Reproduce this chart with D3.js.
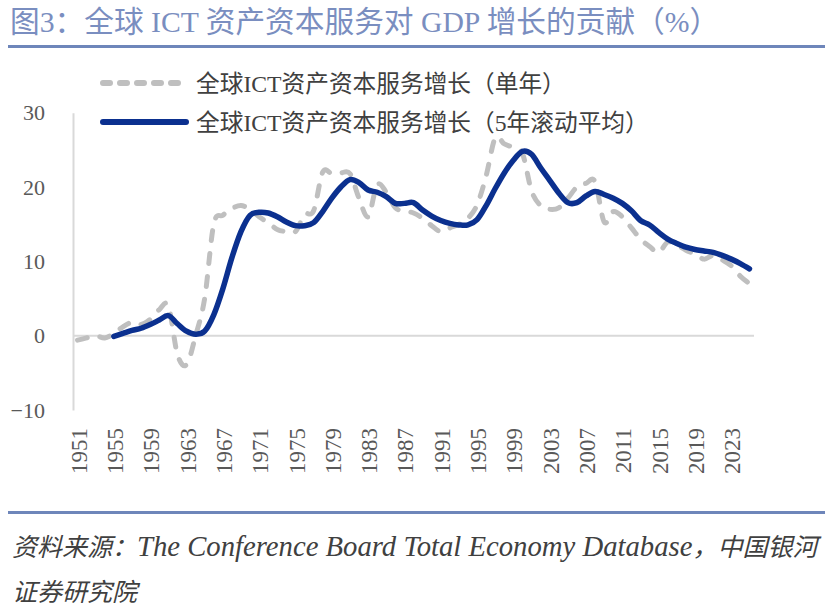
<!DOCTYPE html>
<html>
<head>
<meta charset="utf-8">
<script src="https://cdn.jsdelivr.net/npm/d3@7"></script>
<style>
  body { margin: 0; background: #fff; }
  svg { display: block; }
</style>
</head>
<body>
<svg id="chart" width="825" height="612"></svg>
<script>
// years on the category axis
const years = d3.range(1951, 2026);

// single-year contribution (grey dashed), 1951-2025
const singleYear = [
  -0.6, -0.3, 0.0, -0.3, 0.3, 1.2, 1.8, 1.5, 2.2, 3.5,
  4.0, -2.5, -3.9, 0.0, 5.0, 15.0, 16.2, 17.1, 17.5, 17.0,
  16.0, 15.2, 14.3, 14.0, 14.0, 16.3, 16.8, 22.0, 21.8, 21.9,
  21.8, 18.5, 16.0, 20.3, 19.3, 17.2, 16.8, 16.5, 15.8, 14.8,
  14.0, 14.5, 15.0, 15.8, 17.6, 21.5, 26.6, 25.8, 25.3, 24.5,
  19.5, 17.5, 17.0, 17.2, 18.5, 20.0, 20.5, 20.7, 15.3, 16.7,
  16.0, 14.5, 13.0, 12.0, 11.2, 12.6, 12.2, 11.5, 11.0, 10.3,
  10.8, 10.2, 9.4, 8.0, 7.0
];

// 5-year rolling average (navy), starts 1955
const rollingStart = 1955;
const rolling5 = [
  -0.1, 0.3, 0.7, 1.0, 1.5, 2.1, 2.7, 1.6, 0.6, 0.2,
  0.6, 2.8, 6.3, 10.5, 14.0, 16.2, 16.6, 16.5, 16.0, 15.3,
  14.8, 14.8, 15.2, 16.7, 18.5, 20.0, 21.0, 20.6, 19.6, 19.3,
  18.7, 17.8, 17.8, 17.9, 16.9, 16.1, 15.5, 15.1, 14.9, 14.9,
  15.6, 17.5, 19.8, 21.9, 23.6, 24.8, 24.4, 22.6, 20.9, 19.2,
  17.9, 17.9, 18.8, 19.4, 19.0, 18.5, 17.8, 16.8, 15.5, 14.9,
  13.9, 13.0, 12.4, 11.9, 11.6, 11.4, 11.2, 10.8, 10.3, 9.7,
  9.0
];

const yTicks = [-10, 0, 10, 20, 30];
const xTickYears = years.filter(y => (y - 1951) % 4 === 0);

const titleText = "图3：全球 ICT 资产资本服务对 GDP 增长的贡献（%）";
const legendLabels = ["全球ICT资产资本服务增长（单年）", "全球ICT资产资本服务增长（5年滚动平均）"];
// source text, split into CJK / Latin runs
const sourceRuns = [
  ["资料来源：", "The Conference Board Total Economy Database", "，中国银河"],
  ["证券研究院"]
];

const FONT = "'Liberation Serif', 'Noto Sans CJK SC', serif";
const GREY = "#bfbfbf";
const NAVY = "#0b308f";

const svg = d3.select("#chart");

// title and rules
svg.append("text")
  .attr("x", 10).attr("y", 32)
  .style("font-family", FONT)
  .style("font-size", "29.7px")
  .style("fill", "#7a8ec0")
  .text(titleText);

svg.append("rect").attr("x", 8).attr("y", 45).attr("width", 817).attr("height", 3).attr("fill", "#6e86ba");
svg.append("rect").attr("x", 8).attr("y", 511).attr("width", 817).attr("height", 3).attr("fill", "#6e86ba");

// scales
const xScale = d3.scaleBand()
  .domain(years)
  .range([73, 754])
  .padding(0);

const yScale = d3.scaleLinear()
  .domain([-10, 30])
  .range([410, 112.7]);

const cx = d => xScale(d) + xScale.bandwidth() / 2;

// y axis
const yAxis = svg.append("g")
  .attr("transform", "translate(73,0)")
  .call(d3.axisLeft(yScale).tickValues(yTicks).tickSize(0).tickPadding(28));
yAxis.select(".domain").attr("stroke", "#d9d9d9").attr("stroke-width", 2);
yAxis.selectAll("text")
  .style("font-family", FONT)
  .style("font-size", "22px")
  .style("fill", "#595959");

// zero line
svg.append("line")
  .attr("x1", 73).attr("x2", 754)
  .attr("y1", yScale(0)).attr("y2", yScale(0))
  .attr("stroke", "#d9d9d9").attr("stroke-width", 2);

// x axis labels (rotated)
const xAxis = svg.append("g")
  .attr("transform", "translate(0,410)")
  .call(d3.axisBottom(xScale).tickValues(xTickYears).tickSize(0));
xAxis.select(".domain").remove();
xAxis.selectAll("text")
  .attr("transform", "rotate(-90)")
  .attr("x", -18)
  .attr("y", 1)
  .attr("dy", "0.35em")
  .style("text-anchor", "end")
  .style("font-family", FONT)
  .style("font-size", "23px")
  .style("fill", "#595959");

// lines
const line = d3.line()
  .defined(d => d.v != null)
  .x(d => cx(d.year))
  .y(d => yScale(d.v))
  .curve(d3.curveCatmullRom.alpha(0));

const singleData = years.map((year, i) => ({ year, v: singleYear[i] }));
const rollingData = rolling5.map((v, i) => ({ year: rollingStart + i, v }));

svg.append("path")
  .datum(singleData)
  .attr("d", line)
  .attr("fill", "none")
  .attr("stroke", GREY)
  .attr("stroke-width", 5)
  .attr("stroke-linecap", "round")
  .attr("stroke-linejoin", "round")
  .attr("stroke-dasharray", "10,13");

svg.append("path")
  .datum(rollingData)
  .attr("d", line)
  .attr("fill", "none")
  .attr("stroke", NAVY)
  .attr("stroke-width", 5.5)
  .attr("stroke-linecap", "round")
  .attr("stroke-linejoin", "round");

// legend
const legend = svg.append("g");
const legendRows = [
  { y: 83, color: GREY, dash: "7,10", label: legendLabels[0] },
  { y: 122, color: NAVY, dash: null, label: legendLabels[1] }
];
legendRows.forEach(r => {
  legend.append("line")
    .attr("x1", 103).attr("x2", 186)
    .attr("y1", r.y).attr("y2", r.y)
    .attr("stroke", r.color)
    .attr("stroke-width", 6)
    .attr("stroke-linecap", "round")
    .attr("stroke-dasharray", r.dash);
  legend.append("text")
    .attr("x", 196).attr("y", r.y)
    .attr("dy", "0.36em")
    .style("font-family", FONT)
    .style("font-size", "23.7px")
    .style("fill", "#404040")
    .text(r.label);
});

// source
sourceRuns.forEach((runs, i) => {
  const t = svg.append("text")
    .attr("x", 12).attr("y", 556 + i * 45)
    .style("font-family", FONT)
    .style("font-style", "italic")
    .style("fill", "#404040");
  runs.forEach(run => {
    const latin = /^[A-Za-z ]+$/.test(run);
    t.append("tspan")
      .style("font-size", latin ? "28.7px" : "25px")
      .text(run);
  });
});
</script>
</body>
</html>
